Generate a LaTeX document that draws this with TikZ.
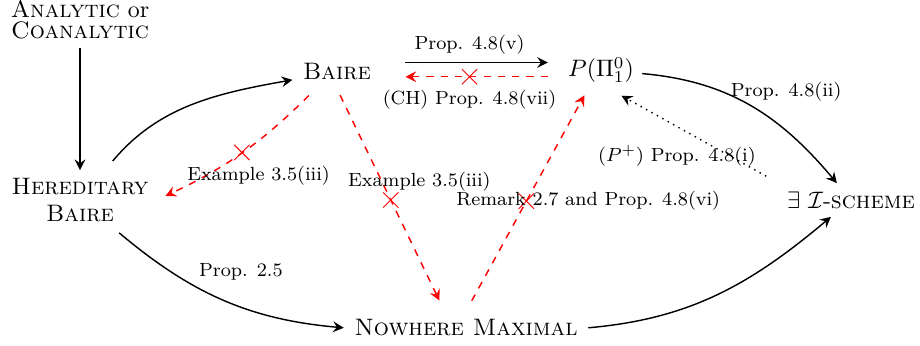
\documentclass[tikz,border=0pt]{standalone}
\usetikzlibrary{arrows.meta,shapes.misc}

\begin{document}
\begin{tikzpicture}[x=0.42pt,y=0.42pt,
  obj/.style={align=center},
  lbl/.style={font=\footnotesize,text=black},
  arr/.style={-{Stealth[length=4.5pt,width=4.5pt,inset=1.6pt]},semithick},
  fail/.style={arr,red,dashed},
  nope/.style={cross out,draw=red,solid,thin,-,shorten <=0pt,shorten >=0pt,minimum size=6pt,inner sep=0pt}
]
\useasboundingbox (0,0) rectangle (920,345);
% objects
\node[obj] (ana) at (80,325) {\textsc{Analytic} or\\[-3pt]\textsc{Coanalytic}};
\node[obj] (her) at (80,145) {\textsc{Hereditary}\\[-1pt]\textsc{Baire}};
\node[obj] (baire) at (337,273) {\textsc{Baire}};
\node[obj] (pin) at (601,275) {$P(\Pi^0_1)$};
\node[obj] (isch) at (851,145) {$\exists\ \mathcal{I}$-\textsc{scheme}};
\node[obj] (nowh) at (466,17) {\textsc{Nowhere Maximal}};

% implications
\draw[arr] (ana) -- (her);
\draw[arr,shorten <=5pt,shorten >=1pt] (her) to[out=50,in=190] (baire);
\draw[arr,shorten <=2pt,shorten >=1pt] (her) to[out=-40,in=175] node[lbl,pos=0.42,above,xshift=15pt,yshift=1pt]{Prop. 2.5} (nowh.west);
\draw[arr,shorten <=1pt] (nowh.east) to[out=5,in=220] (isch);
\draw[arr,shorten <=11pt,shorten >=5pt] ([yshift=4pt]baire.east) -- node[lbl,above]{Prop. 4.8(v)} ([yshift=4pt]baire.east -| pin.west);
\draw[arr] (pin) to[out=-5,in=130] node[lbl,pos=0.35,right]{Prop. 4.8(ii)} (isch);
\draw[arr,dotted,shorten <=6pt,shorten >=4pt] (isch.north west) -- node[lbl,midway,below,xshift=-8pt]{$(P^+)$ Prop. 4.8(i)} (pin.-60);

% non-implications
\draw[fail,shorten <=5pt,shorten >=11pt] ([yshift=-2pt]baire.east -| pin.west) -- node[nope]{} node[lbl,below=2pt]{(CH) Prop. 4.8(vii)} ([yshift=-2pt]baire.east);
\draw[fail,shorten <=4pt,shorten >=4pt] ([xshift=-9pt]baire.south) to[bend left=10] node[nope]{} node[lbl,below=2pt,xshift=7pt]{Example 3.5(iii)} (her.east);
\draw[fail,shorten <=3pt,shorten >=5pt] (baire.south) -- node[nope]{} node[lbl,above,xshift=12pt]{Example 3.5(iii)} ([xshift=-9pt]nowh.north);
\draw[fail,shorten <=5pt,shorten >=2pt] (nowh.north) -- node[nope]{} node[lbl,xshift=26pt]{Remark 2.7 and Prop. 4.8(vi)} ([xshift=-6pt]pin.south);
\end{tikzpicture}
\end{document}
